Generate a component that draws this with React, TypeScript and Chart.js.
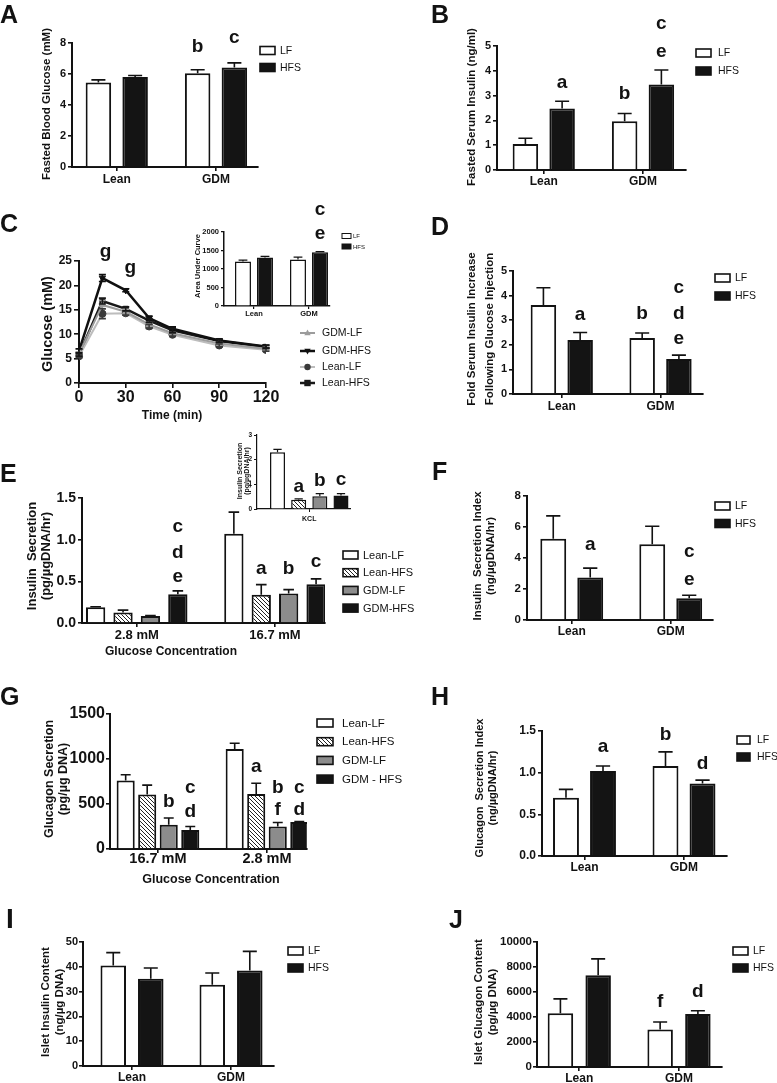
import React, { useEffect, useRef } from 'react';
import { Chart, registerables } from 'chart.js';

Chart.register(...registerables);

const FONT = '"Liberation Sans", Arial, Helvetica, sans-serif';
const INK = '#121212';
Chart.defaults.font.family = FONT;
Chart.defaults.color = INK;

/* ---------------- categories / labels ---------------- */
const dietGroups = ['Lean', 'GDM'];
const glucoseLevelsE = ['2.8 mM', '16.7 mM'];
const glucoseLevelsG = ['16.7 mM', '2.8 mM'];
const kclCategory = ['KCL'];
const fourGroups = ['Lean-LF', 'Lean-HFS', 'GDM-LF', 'GDM-HFS'];
const fourGroupsG = ['Lean-LF', 'Lean-HFS', 'GDM-LF', 'GDM - HFS'];
const lineGroups = ['GDM-LF', 'GDM-HFS', 'Lean-LF', 'Lean-HFS'];
const ipgttTimes = [0, 15, 30, 45, 60, 90, 120];

/* A: fasted blood glucose (mM) */
const fbgLF = [5.45, 6.05];
const fbgLFsem = [0.17, 0.22];
const fbgHFS = [5.8, 6.42];
const fbgHFSsem = [0.1, 0.3];

/* B: fasted serum insulin (ng/ml) */
const fsiLF = [1.05, 1.97];
const fsiLFsem = [0.23, 0.31];
const fsiHFS = [2.48, 3.45];
const fsiHFSsem = [0.29, 0.58];

/* C: glucose tolerance (mM) */
const gttGdmLF = [6.0, 16.0, 14.6, 12.0, 10.2, 8.1, 7.0];
const gttGdmLFsem = [0.4, 0.9, 0.5, 0.4, 0.4, 0.3, 0.3];
const gttGdmHFS = [6.6, 21.5, 19.0, 13.3, 11.1, 8.7, 7.5];
const gttGdmHFSsem = [0.4, 0.7, 0.3, 0.4, 0.4, 0.3, 0.3];
const gttLeanLF = [5.5, 14.2, 14.3, 11.6, 9.9, 7.7, 6.8];
const gttLeanLFsem = [0.3, 1.0, 0.4, 0.4, 0.3, 0.3, 0.3];
const gttLeanHFS = [5.8, 16.8, 15.2, 12.8, 10.8, 8.6, 7.4];
const gttLeanHFSsem = [0.3, 0.6, 0.4, 0.4, 0.4, 0.3, 0.3];

/* C inset: area under curve */
const aucLF = [1200, 1255];
const aucLFsem = [40, 65];
const aucHFS = [1310, 1450];
const aucHFSsem = [30, 20];

/* D: fold serum insulin increase */
const foldLF = [3.62, 2.28];
const foldLFsem = [0.7, 0.2];
const foldHFS = [2.2, 1.42];
const foldHFSsem = [0.3, 0.16];

/* E: insulin secretion (pg/ugDNA/hr) */
const gsisLeanLF = [0.19, 1.07];
const gsisLeanLFsem = [0.005, 0.26];
const gsisLeanHFS = [0.125, 0.34];
const gsisLeanHFSsem = [0.03, 0.12];
const gsisGdmLF = [0.085, 0.355];
const gsisGdmLFsem = [0.005, 0.045];
const gsisGdmHFS = [0.345, 0.465];
const gsisGdmHFSsem = [0.04, 0.065];

/* E inset: KCL */
const kclLeanLF = [2.3];
const kclLeanLFsem = [0.12];
const kclLeanHFS = [0.38];
const kclLeanHFSsem = [0.03];
const kclGdmLF = [0.52];
const kclGdmLFsem = [0.1];
const kclGdmHFS = [0.55];
const kclGdmHFSsem = [0.07];

/* F: insulin secretion index */
const isiLF = [5.25, 4.88];
const isiLFsem = [1.47, 1.17];
const isiHFS = [2.75, 1.4];
const isiHFSsem = [0.6, 0.2];

/* G: glucagon secretion (pg/ug DNA) */
const gcgLeanLF = [760, 1110];
const gcgLeanLFsem = [65, 65];
const gcgLeanHFS = [605, 610];
const gcgLeanHFSsem = [105, 120];
const gcgGdmLF = [270, 250];
const gcgGdmLFsem = [75, 45];
const gcgGdmHFS = [210, 300];
const gcgGdmHFSsem = [40, 5];

/* H: glucagon secretion index */
const gsiLF = [0.7, 1.08];
const gsiLFsem = [0.1, 0.17];
const gsiHFS = [1.02, 0.87];
const gsiHFSsem = [0.06, 0.04];

/* I: islet insulin content */
const insLF = [40.5, 32.8];
const insLFsem = [5.2, 4.7];
const insHFS = [35.2, 38.5];
const insHFSsem = [4.3, 7.7];

/* J: islet glucagon content */
const gcLF = [4300, 3000];
const gcLFsem = [1150, 600];
const gcHFS = [7350, 4250];
const gcHFSsem = [1300, 250];

/* ---------------- types ---------------- */
type Style = 'white' | 'black' | 'gray' | 'hatch';
interface Series { label: string; values: number[]; sem: number[]; style: Style }
interface LineSeries { label: string; values: number[]; sem: number[]; line: string; point: string; marker: string; width: number }
interface Letter { ds?: number; cat?: number; x?: number; y: number; text: string }

const baseOpts = {
  yDec: 0, yTick: 11, xTick: 12, xPad: 1, yPad: 2, tickLen: 4, axisW: 2, barBorder: 2, errW: 1.6,
  letterSize: 19, legendSize: 10.5, titleSize: 11.5,
};

const panels: any[] = [
  {
    ...baseOpts, kind: 'bar', key: 'A',
    canvas: { l: 0, t: 0, w: 400, h: 200 }, area: { l: 72, t: 43, r: 258, b: 167 },
    categories: dietGroups,
    series: [
      { label: 'LF', values: fbgLF, sem: fbgLFsem, style: 'white' },
      { label: 'HFS', values: fbgHFS, sem: fbgHFSsem, style: 'black' },
    ],
    yMax: 8, yStep: 2, xMin: 0.549, xMax: 2.423, catPct: 0.74, barPct: 0.694,
    letters: [{ ds: 0, cat: 1, y: 7.42, text: 'b' }, { ds: 1, cat: 1, y: 8.0, text: 'c' }],
    legend: { x: 260, y: 50.5, dy: 17, bw: 15, bh: 8, tx: 280 },
    panelLetter: { text: 'A', x: 0, y: 23, size: 25 },
    yTitle: { lines: ['Fasted Blood Glucose (mM)'], xs: [47], y: 104 },
  },
  {
    ...baseOpts, kind: 'bar', key: 'B',
    canvas: { l: 390, t: 0, w: 387, h: 200 }, area: { l: 497, t: 46, r: 686, b: 170 },
    categories: dietGroups,
    series: [
      { label: 'LF', values: fsiLF, sem: fsiLFsem, style: 'white' },
      { label: 'HFS', values: fsiHFS, sem: fsiHFSsem, style: 'black' },
    ],
    yMax: 5, yStep: 1, xMin: 0.529, xMax: 2.433, catPct: 0.74, barPct: 0.694, xPad: 0.5,
    letters: [
      { ds: 1, cat: 0, y: 3.31, text: 'a' }, { ds: 0, cat: 1, y: 2.86, text: 'b' },
      { ds: 1, cat: 1, y: 5.67, text: 'c' }, { ds: 1, cat: 1, y: 4.54, text: 'e' },
    ],
    legend: { x: 696, y: 53, dy: 18, bw: 15, bh: 8, tx: 718 },
    panelLetter: { text: 'B', x: 431, y: 23, size: 25 },
    yTitle: { lines: ['Fasted Serum Insulin (ng/ml)'], xs: [472], y: 107 },
  },
  {
    ...baseOpts, kind: 'line', key: 'C',
    canvas: { l: 0, t: 200, w: 400, h: 225 }, area: { l: 79, t: 261, r: 266, b: 383 },
    xValues: ipgttTimes,
    lines: [
      { label: lineGroups[0], values: gttGdmLF, sem: gttGdmLFsem, line: '#9c9c9c', point: '#9c9c9c', marker: 'triangle', width: 2 },
      { label: lineGroups[1], values: gttGdmHFS, sem: gttGdmHFSsem, line: '#101010', point: '#101010', marker: 'triangleDown', width: 2.5 },
      { label: lineGroups[2], values: gttLeanLF, sem: gttLeanLFsem, line: '#bdbdbd', point: '#3a3a3a', marker: 'circle', width: 2 },
      { label: lineGroups[3], values: gttLeanHFS, sem: gttLeanHFSsem, line: '#181818', point: '#181818', marker: 'rect', width: 2.5 },
    ],
    xMin: 0, xMax: 120, xStep: 30, yMax: 25, yStep: 5, yTick: 12, xTick: 16, xPad: 0, tickLen: 5,
    letters: [{ x: 17, y: 25.8, text: 'g' }, { x: 33, y: 22.5, text: 'g' }],
    lineLegend: { x0: 300, x1: 315, ys: [333, 351, 367, 383], tx: 322, size: 10.5 },
    panelLetter: { text: 'C', x: 0, y: 232, size: 25 },
    yTitle: { lines: ['Glucose (mM)'], xs: [48], y: 324, size: 14.5 },
    xTitle: { text: 'Time (min)', x: 172, y: 419, size: 12 },
  },
  {
    ...baseOpts, kind: 'bar', key: 'Cin',
    canvas: { l: 185, t: 200, w: 200, h: 125 }, area: { l: 224, t: 232, r: 330, b: 306 },
    categories: dietGroups,
    series: [
      { label: 'LF', values: aucLF, sem: aucLFsem, style: 'white' },
      { label: 'HFS', values: aucHFS, sem: aucHFSsem, style: 'black' },
    ],
    yMax: 2000, yStep: 500, xMin: 0.455, xMax: 2.382, catPct: 0.8, barPct: 0.727,
    yTick: 7.5, xTick: 7.5, xPad: 0, tickLen: 3, axisW: 1.5, barBorder: 1.5, errW: 1.2,
    letters: [{ ds: 1, cat: 1, y: 2459, text: 'c' }, { ds: 1, cat: 1, y: 1811, text: 'e' }],
    legend: { x: 342, y: 236, dy: 10.5, bw: 9, bh: 5, tx: 353, size: 6 },
    yTitle: { lines: ['Area Under Curve'], xs: [197.5], y: 266, size: 7.5 },
  },
  {
    ...baseOpts, kind: 'bar', key: 'D',
    canvas: { l: 390, t: 200, w: 387, h: 215 }, area: { l: 513, t: 271, r: 703, b: 394 },
    categories: dietGroups,
    series: [
      { label: 'LF', values: foldLF, sem: foldLFsem, style: 'white' },
      { label: 'HFS', values: foldHFS, sem: foldHFSsem, style: 'black' },
    ],
    yMax: 5, yStep: 1, xMin: 0.506, xMax: 2.43, catPct: 0.744, barPct: 0.694,
    letters: [
      { ds: 1, cat: 0, y: 3.0, text: 'a' }, { ds: 0, cat: 1, y: 3.05, text: 'b' },
      { ds: 1, cat: 1, y: 4.1, text: 'c' }, { ds: 1, cat: 1, y: 3.05, text: 'd' },
      { ds: 1, cat: 1, y: 2.03, text: 'e' },
    ],
    legend: { x: 715, y: 278, dy: 18, bw: 15, bh: 8, tx: 735 },
    panelLetter: { text: 'D', x: 431, y: 235, size: 25 },
    yTitle: { lines: ['Fold Serum Insulin Increase', 'Following Glucose Injection'], xs: [471.5, 489.5], y: 329 },
  },
  {
    ...baseOpts, kind: 'bar', key: 'E',
    canvas: { l: 0, t: 425, w: 420, h: 235 }, area: { l: 82, t: 498, r: 325, b: 623 },
    categories: glucoseLevelsE,
    series: [
      { label: fourGroups[0], values: gsisLeanLF, sem: gsisLeanLFsem, style: 'white' },
      { label: fourGroups[1], values: gsisLeanHFS, sem: gsisLeanHFSsem, style: 'hatch' },
      { label: fourGroups[2], values: gsisGdmLF, sem: gsisGdmLFsem, style: 'gray' },
      { label: fourGroups[3], values: gsisGdmHFS, sem: gsisGdmHFSsem, style: 'black' },
    ],
    yMax: 1.5, yStep: 0.5, yDec: 1, xMin: 0.604, xMax: 2.362, catPct: 0.793, barPct: 0.704,
    yTick: 14, xTick: 13,
    letters: [
      { ds: 3, cat: 0, y: 1.09, text: 'c' }, { ds: 3, cat: 0, y: 0.78, text: 'd' },
      { ds: 3, cat: 0, y: 0.49, text: 'e' }, { ds: 1, cat: 1, y: 0.59, text: 'a' },
      { ds: 2, cat: 1, y: 0.59, text: 'b' }, { ds: 3, cat: 1, y: 0.67, text: 'c' },
    ],
    legend: { x: 343, y: 555, dy: 17.7, bw: 15, bh: 8, tx: 363, size: 11 },
    panelLetter: { text: 'E', x: 0, y: 482, size: 25 },
    yTitle: { lines: ['Insulin  Secretion', '(pg/\u00B5gDNA/hr)'], xs: [32, 46], y: 556, size: 13 },
    xTitle: { text: 'Glucose Concentration', x: 171, y: 655, size: 12 },
  },
  {
    ...baseOpts, kind: 'bar', key: 'Ein',
    canvas: { l: 225, t: 420, w: 135, h: 110 }, area: { l: 257, t: 435, r: 350, b: 509 },
    categories: kclCategory,
    series: [
      { label: fourGroups[0], values: kclLeanLF, sem: kclLeanLFsem, style: 'white' },
      { label: fourGroups[1], values: kclLeanHFS, sem: kclLeanHFSsem, style: 'hatch' },
      { label: fourGroups[2], values: kclGdmLF, sem: kclGdmLFsem, style: 'gray' },
      { label: fourGroups[3], values: kclGdmHFS, sem: kclGdmHFSsem, style: 'black' },
    ],
    yMax: 3, yStep: 1, xMin: 0.5, xMax: 1.39, catPct: 0.91, barPct: 0.71,
    yTick: 6.5, xTick: 7, xPad: 3, tickLen: 3, axisW: 1.2, barBorder: 1.5, errW: 1.2,
    letters: [
      { ds: 1, cat: 0, y: 0.69, text: 'a' }, { ds: 2, cat: 0, y: 0.93, text: 'b' },
      { ds: 3, cat: 0, y: 0.97, text: 'c' },
    ],
    yTitle: { lines: ['Insulin Secretion', '(pg/\u00B5gDNA/hr)'], xs: [240.5, 247], y: 471, size: 7 },
  },
  {
    ...baseOpts, kind: 'bar', key: 'F',
    canvas: { l: 390, t: 440, w: 387, h: 200 }, area: { l: 527, t: 496, r: 713, b: 620 },
    categories: dietGroups,
    series: [
      { label: 'LF', values: isiLF, sem: isiLFsem, style: 'white' },
      { label: 'HFS', values: isiHFS, sem: isiHFSsem, style: 'black' },
    ],
    yMax: 8, yStep: 2, xMin: 0.548, xMax: 2.427, catPct: 0.747, barPct: 0.7, xPad: 0, yTick: 11.5,
    letters: [
      { ds: 1, cat: 0, y: 4.52, text: 'a' }, { ds: 1, cat: 1, y: 4.06, text: 'c' },
      { ds: 1, cat: 1, y: 2.26, text: 'e' },
    ],
    legend: { x: 715, y: 506, dy: 17.5, bw: 15, bh: 8, tx: 735 },
    panelLetter: { text: 'F', x: 432, y: 480, size: 25 },
    yTitle: { lines: ['Insulin  Secretion Index', '(ng/\u00B5gDNA/hr)'], xs: [478, 491], y: 556 },
  },
  {
    ...baseOpts, kind: 'bar', key: 'G',
    canvas: { l: 0, t: 665, w: 420, h: 225 }, area: { l: 110, t: 714, r: 307, b: 849 },
    categories: glucoseLevelsG,
    series: [
      { label: fourGroupsG[0], values: gcgLeanLF, sem: gcgLeanLFsem, style: 'white' },
      { label: fourGroupsG[1], values: gcgLeanHFS, sem: gcgLeanHFSsem, style: 'hatch' },
      { label: fourGroupsG[2], values: gcgGdmLF, sem: gcgGdmLFsem, style: 'gray' },
      { label: fourGroupsG[3], values: gcgGdmHFS, sem: gcgGdmHFSsem, style: 'black' },
    ],
    yMax: 1500, yStep: 500, xMin: 0.56, xMax: 2.367, catPct: 0.79, barPct: 0.84,
    yTick: 16, xTick: 14.5, xPad: -3, yPad: 1,
    letters: [
      { ds: 2, cat: 0, y: 467, text: 'b' }, { ds: 3, cat: 0, y: 622, text: 'c' },
      { ds: 3, cat: 0, y: 356, text: 'd' }, { ds: 1, cat: 1, y: 856, text: 'a' },
      { ds: 2, cat: 1, y: 622, text: 'b' }, { ds: 2, cat: 1, y: 378, text: 'f' },
      { ds: 3, cat: 1, y: 622, text: 'c' }, { ds: 3, cat: 1, y: 378, text: 'd' },
    ],
    legend: { x: 317, y: 723, dy: 18.7, bw: 16, bh: 8, tx: 342, size: 11.5 },
    panelLetter: { text: 'G', x: 0, y: 705, size: 25 },
    yTitle: { lines: ['Glucagon Secretion', '(pg/\u00B5g DNA)'], xs: [50, 64], y: 779, size: 12.5 },
    xTitle: { text: 'Glucose Concentration', x: 211, y: 883, size: 12.5 },
  },
  {
    ...baseOpts, kind: 'bar', key: 'H',
    canvas: { l: 390, t: 665, w: 387, h: 215 }, area: { l: 542, t: 731, r: 727, b: 856 },
    categories: dietGroups,
    series: [
      { label: 'LF', values: gsiLF, sem: gsiLFsem, style: 'white' },
      { label: 'HFS', values: gsiHFS, sem: gsiHFSsem, style: 'black' },
    ],
    yMax: 1.5, yStep: 0.5, yDec: 1, xMin: 0.573, xMax: 2.432, catPct: 0.744, barPct: 0.7, xPad: 0, yTick: 12,
    letters: [
      { ds: 1, cat: 0, y: 1.25, text: 'a' }, { ds: 0, cat: 1, y: 1.39, text: 'b' },
      { ds: 1, cat: 1, y: 1.05, text: 'd' },
    ],
    legend: { x: 737, y: 740, dy: 17, bw: 13, bh: 8, tx: 757 },
    panelLetter: { text: 'H', x: 431, y: 705, size: 25 },
    yTitle: { lines: ['Glucagon  Secretion Index', '(ng/\u00B5gDNA/hr)'], xs: [480, 493], y: 788, size: 11 },
  },
  {
    ...baseOpts, kind: 'bar', key: 'I',
    canvas: { l: 0, t: 890, w: 390, h: 193 }, area: { l: 83, t: 942, r: 274, b: 1066 },
    categories: dietGroups,
    series: [
      { label: 'LF', values: insLF, sem: insLFsem, style: 'white' },
      { label: 'HFS', values: insHFS, sem: insHFSsem, style: 'black' },
    ],
    yMax: 50, yStep: 10, xMin: 0.505, xMax: 2.434, catPct: 0.758, barPct: 0.68, yTick: 11, yPad: 1, xPad: 0,
    letters: [],
    legend: { x: 288, y: 951, dy: 17, bw: 15, bh: 8, tx: 308 },
    panelLetter: { text: 'I', x: 6, y: 928, size: 28 },
    yTitle: { lines: ['Islet Insulin Content', '(ng/\u00B5g DNA)'], xs: [46, 60], y: 1002 },
  },
  {
    ...baseOpts, kind: 'bar', key: 'J',
    canvas: { l: 390, t: 890, w: 387, h: 193 }, area: { l: 537, t: 942, r: 722, b: 1067 },
    categories: dietGroups,
    series: [
      { label: 'LF', values: gcLF, sem: gcLFsem, style: 'white' },
      { label: 'HFS', values: gcHFS, sem: gcHFSsem, style: 'black' },
    ],
    yMax: 10000, yStep: 2000, xMin: 0.576, xMax: 2.431, catPct: 0.757, barPct: 0.675, yTick: 11.5, yPad: 1, xPad: 0,
    letters: [{ ds: 0, cat: 1, y: 4800, text: 'f' }, { ds: 1, cat: 1, y: 5600, text: 'd' }],
    legend: { x: 733, y: 951, dy: 17, bw: 15, bh: 8, tx: 753 },
    panelLetter: { text: 'J', x: 449, y: 928, size: 25 },
    yTitle: { lines: ['Islet Glucagon Content', '(pg/\u00B5g DNA)'], xs: [479, 493], y: 1002 },
  },
];

/* ---------------- drawing helpers ---------------- */
let hatchCache: any = null;
function hatchPattern(): any {
  if (hatchCache) return hatchCache;
  const c = document.createElement('canvas');
  c.width = 4; c.height = 4;
  const g = c.getContext('2d')!;
  g.fillStyle = '#ffffff';
  g.fillRect(0, 0, 4, 4);
  g.strokeStyle = '#222';
  g.lineWidth = 1;
  g.beginPath();
  g.moveTo(-1, -1); g.lineTo(5, 5);
  g.moveTo(-1, 3); g.lineTo(1, 5);
  g.moveTo(3, -1); g.lineTo(5, 1);
  g.stroke();
  hatchCache = g.createPattern(c, 'repeat');
  return hatchCache;
}

function fillFor(s: Style): any {
  if (s === 'white') return '#ffffff';
  if (s === 'black') return '#141414';
  if (s === 'gray') return '#8c8c8c';
  return hatchPattern();
}

function drawMarker(ctx: CanvasRenderingContext2D, m: string, x: number, y: number, r: number, color: string) {
  ctx.fillStyle = color;
  ctx.beginPath();
  if (m === 'circle') ctx.arc(x, y, r, 0, Math.PI * 2);
  else if (m === 'rect') ctx.rect(x - r, y - r, 2 * r, 2 * r);
  else if (m === 'triangle') { ctx.moveTo(x, y - r * 1.1); ctx.lineTo(x + r, y + r * 0.7); ctx.lineTo(x - r, y + r * 0.7); ctx.closePath(); }
  else { ctx.moveTo(x, y + r * 1.1); ctx.lineTo(x + r, y - r * 0.7); ctx.lineTo(x - r, y - r * 0.7); ctx.closePath(); }
  ctx.fill();
}

function decorPlugin(p: any) {
  const ox = p.canvas.l;
  const oy = p.canvas.t;
  return {
    id: 'decor' + p.key,
    afterDatasetsDraw(chart: any) {
      const ctx: CanvasRenderingContext2D = chart.ctx;
      const ys = chart.scales.y;
      ctx.save();
      ctx.lineWidth = p.errW;
      if (p.kind === 'bar') {
        ctx.strokeStyle = INK;
        p.series.forEach((s: Series, di: number) => {
          const meta = chart.getDatasetMeta(di);
          meta.data.forEach((el: any, j: number) => {
            const top = ys.getPixelForValue(s.values[j] + s.sem[j]);
            const cap = el.width * 0.55;
            ctx.beginPath();
            ctx.moveTo(el.x, el.y);
            ctx.lineTo(el.x, top);
            ctx.moveTo(el.x - cap / 2, top);
            ctx.lineTo(el.x + cap / 2, top);
            ctx.stroke();
          });
        });
      } else {
        p.lines.forEach((s: LineSeries, di: number) => {
          const meta = chart.getDatasetMeta(di);
          ctx.strokeStyle = s.point;
          meta.data.forEach((el: any, j: number) => {
            const hi = ys.getPixelForValue(s.values[j] + s.sem[j]);
            const lo = ys.getPixelForValue(s.values[j] - s.sem[j]);
            ctx.beginPath();
            ctx.moveTo(el.x, lo); ctx.lineTo(el.x, hi);
            ctx.moveTo(el.x - 3.5, hi); ctx.lineTo(el.x + 3.5, hi);
            ctx.moveTo(el.x - 3.5, lo); ctx.lineTo(el.x + 3.5, lo);
            ctx.stroke();
          });
        });
      }
      ctx.restore();
    },
    afterDraw(chart: any) {
      const ctx: CanvasRenderingContext2D = chart.ctx;
      const ys = chart.scales.y;
      const xs = chart.scales.x;
      ctx.save();
      ctx.fillStyle = INK;
      // significance letters
      ctx.font = `bold ${p.letterSize}px ${FONT}`;
      ctx.textAlign = 'center';
      ctx.textBaseline = 'alphabetic';
      p.letters.forEach((L: Letter) => {
        const x = p.kind === 'bar' ? chart.getDatasetMeta(L.ds).data[L.cat as number].x : xs.getPixelForValue(L.x);
        ctx.fillText(L.text, x, ys.getPixelForValue(L.y));
      });
      // bar legend
      if (p.legend) {
        const lg = p.legend;
        const size = lg.size || p.legendSize;
        ctx.font = `${size}px ${FONT}`;
        ctx.textAlign = 'left';
        ctx.textBaseline = 'middle';
        p.series.forEach((s: Series, i: number) => {
          const cy = lg.y + i * lg.dy - oy;
          const bx = lg.x - ox;
          ctx.fillStyle = fillFor(s.style);
          ctx.fillRect(bx, cy - lg.bh / 2, lg.bw, lg.bh);
          ctx.strokeStyle = INK;
          ctx.lineWidth = size < 8 ? 1 : 1.6;
          ctx.strokeRect(bx, cy - lg.bh / 2, lg.bw, lg.bh);
          ctx.fillStyle = INK;
          ctx.fillText(s.label, lg.tx - ox, cy + 0.5);
        });
      }
      // line legend
      if (p.lineLegend) {
        const lg = p.lineLegend;
        ctx.font = `${lg.size}px ${FONT}`;
        ctx.textAlign = 'left';
        ctx.textBaseline = 'middle';
        p.lines.forEach((s: LineSeries, i: number) => {
          const cy = lg.ys[i] - oy;
          ctx.strokeStyle = s.line;
          ctx.lineWidth = s.width;
          ctx.beginPath();
          ctx.moveTo(lg.x0 - ox, cy);
          ctx.lineTo(lg.x1 - ox, cy);
          ctx.stroke();
          drawMarker(ctx, s.marker, (lg.x0 + lg.x1) / 2 - ox, cy, 3.2, s.point);
          ctx.fillStyle = INK;
          ctx.fillText(s.label, lg.tx - ox, cy + 0.5);
        });
      }
      // y title
      if (p.yTitle) {
        const t = p.yTitle;
        ctx.font = `bold ${t.size || p.titleSize}px ${FONT}`;
        ctx.textAlign = 'center';
        ctx.textBaseline = 'middle';
        t.lines.forEach((line: string, i: number) => {
          ctx.save();
          ctx.translate(t.xs[i] - ox, t.y - oy);
          ctx.rotate(-Math.PI / 2);
          ctx.fillText(line, 0, 0);
          ctx.restore();
        });
      }
      // x title
      if (p.xTitle) {
        const t = p.xTitle;
        ctx.font = `bold ${t.size}px ${FONT}`;
        ctx.textAlign = 'center';
        ctx.textBaseline = 'alphabetic';
        ctx.fillText(t.text, t.x - ox, t.y - oy);
      }
      // panel letter
      if (p.panelLetter) {
        const t = p.panelLetter;
        ctx.font = `bold ${t.size}px ${FONT}`;
        ctx.textAlign = 'left';
        ctx.textBaseline = 'alphabetic';
        ctx.fillText(t.text, t.x - ox, t.y - oy);
      }
      ctx.restore();
    },
  };
}

function buildConfig(p: any): any {
  const padTop = p.area.t - p.canvas.t;
  const padRight = p.canvas.l + p.canvas.w - p.area.r;
  const yW = p.area.l - p.canvas.l;
  const xH = p.canvas.t + p.canvas.h - p.area.b;
  const grid = {
    display: true, drawOnChartArea: false, drawTicks: true, tickLength: p.tickLen,
    color: INK, lineWidth: Math.max(1, p.axisW * 0.8), offset: false,
  };
  const border = { display: true, color: INK, width: p.axisW };
  let datasets: any[];
  if (p.kind === 'bar') {
    datasets = p.series.map((s: Series) => ({
      label: s.label,
      data: s.values.map((v, i) => ({ x: i + 1, y: v })),
      backgroundColor: fillFor(s.style),
      borderColor: INK,
      borderWidth: p.barBorder,
      categoryPercentage: p.catPct,
      barPercentage: p.barPct,
    }));
  } else {
    datasets = p.lines.map((s: LineSeries) => ({
      label: s.label,
      data: s.values.map((v, i) => ({ x: p.xValues[i], y: v })),
      borderColor: s.line,
      backgroundColor: s.point,
      borderWidth: s.width,
      pointStyle: s.marker === 'circle' ? 'circle' : s.marker === 'rect' ? 'rect' : 'triangle',
      rotation: s.marker === 'triangleDown' ? 180 : 0,
      pointRadius: 3.6,
      pointBorderColor: s.point,
      pointBackgroundColor: s.point,
      pointBorderWidth: 1,
      tension: 0,
    }));
  }
  const cats: string[] = p.categories || [];
  const xScale: any = {
    type: 'linear', min: p.xMin, max: p.xMax, offset: false, grid, border,
    ticks: {
      font: { family: FONT, size: p.xTick, weight: 'bold' }, color: INK, padding: p.xPad,
      maxRotation: 0, minRotation: 0, autoSkip: false,
    },
    afterFit: (s: any) => { s.height = xH; },
  };
  if (p.kind === 'bar') {
    xScale.afterBuildTicks = (s: any) => { s.ticks = cats.map((_c, i) => ({ value: i + 1 })); };
    xScale.ticks.callback = (_v: any, i: number) => cats[i];
  } else {
    xScale.ticks.stepSize = p.xStep;
  }
  const yScale: any = {
    type: 'linear', min: 0, max: p.yMax, grid, border,
    ticks: {
      stepSize: p.yStep, font: { family: FONT, size: p.yTick, weight: 'bold' }, color: INK, padding: p.yPad,
      callback: (v: any) => Number(v).toFixed(p.yDec),
    },
    afterFit: (s: any) => { s.width = yW; },
  };
  return {
    type: p.kind,
    data: { datasets },
    options: {
      responsive: false,
      maintainAspectRatio: false,
      animation: false,
      devicePixelRatio: 1,
      layout: { padding: { top: padTop, right: padRight, left: 0, bottom: 0 } },
      plugins: { legend: { display: false }, tooltip: { enabled: false } },
      scales: { x: xScale, y: yScale },
    },
    plugins: [decorPlugin(p)],
  };
}

function PanelChart({ p }: { p: any }) {
  const ref = useRef<HTMLCanvasElement>(null);
  useEffect(() => {
    if (!ref.current) return;
    const chart = new Chart(ref.current, buildConfig(p));
    return () => chart.destroy();
  }, [p]);
  return (
    <canvas
      ref={ref}
      width={p.canvas.w}
      height={p.canvas.h}
      style={{ position: 'absolute', left: p.canvas.l, top: p.canvas.t, width: p.canvas.w, height: p.canvas.h }}
    />
  );
}

export default function App() {
  return (
    <div style={{ position: 'absolute', left: 0, top: 0, width: 777, height: 1083, background: '#ffffff', overflow: 'hidden' }}>
      {panels.map((p) => <PanelChart key={p.key} p={p} />)}
    </div>
  );
}
